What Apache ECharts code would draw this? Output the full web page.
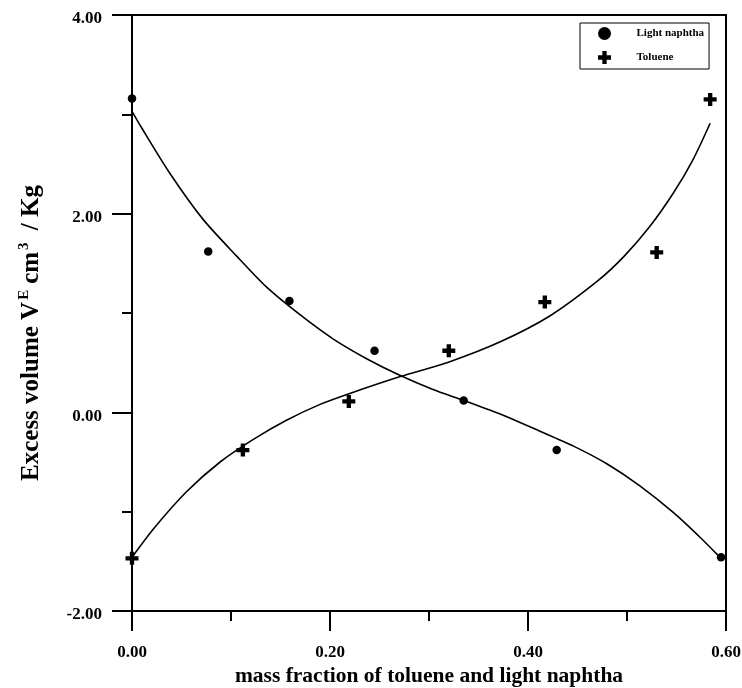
<!DOCTYPE html>
<html>
<head>
<meta charset="utf-8">
<script src="https://cdn.jsdelivr.net/npm/echarts@6/dist/echarts.min.js"></script>
<style>html,body{margin:0;padding:0;background:#fff}#c{width:742px;height:688px}</style>
</head>
<body>
<div id="c"></div>
<script>
// Measured points
const naphthaX = [0, 0.077, 0.159, 0.245, 0.335, 0.429, 0.595];
const naphthaY = [3.16, 1.62, 1.12, 0.62, 0.12, -0.38, -1.46];
const tolueneX = [0, 0.112, 0.219, 0.320, 0.417, 0.530, 0.584];
const tolueneY = [-1.47, -0.38, 0.11, 0.62, 1.11, 1.61, 3.15];
// Fitted curves
const fitNaphthaX = [0, 0.01, 0.038, 0.072, 0.106, 0.136, 0.170, 0.203, 0.237, 0.271, 0.304, 0.335, 0.37, 0.412, 0.446, 0.480, 0.513, 0.547, 0.574, 0.594];
const fitNaphthaY = [3.03, 2.86, 2.41, 1.94, 1.57, 1.26, 0.98, 0.74, 0.54, 0.37, 0.23, 0.12, -0.01, -0.19, -0.34, -0.52, -0.74, -1.01, -1.26, -1.46];
const fitTolueneX = [0, 0.022, 0.055, 0.089, 0.123, 0.156, 0.19, 0.22, 0.271, 0.321, 0.372, 0.422, 0.47, 0.497, 0.523, 0.547, 0.567, 0.584];
const fitTolueneY = [-1.46, -1.17, -0.80, -0.50, -0.27, -0.08, 0.08, 0.19, 0.36, 0.51, 0.71, 0.97, 1.32, 1.57, 1.87, 2.21, 2.55, 2.91];
const xTicks = [0, 0.2, 0.4, 0.6];
const yTicks = [-2, 0, 2, 4];
const seriesNames = ['Light naphtha', 'Toluene'];

const zip = (a, b) => a.map((v, i) => [v, b[i]]);
const FONT = '"Liberation Serif", "Times New Roman", serif';
const CROSS = 'path://M4,0H8V4H12V8H8V12H4V8H0V4H4Z';

const chart = echarts.init(document.getElementById('c'), null, {renderer: 'canvas'});
chart.setOption({
  animation: false,
  backgroundColor: '#fff',
  grid: {left: 132, right: 16, top: 15, bottom: 77, show: true, borderColor: '#000', borderWidth: 2, backgroundColor: 'transparent', containLabel: false, outerBoundsMode: 'none'},
  legend: {
    data: seriesNames,
    orient: 'vertical',
    left: 580, top: 23,
    padding: [4, 5, 5, 18],
    itemWidth: 40, itemHeight: 13, itemGap: 11,
    borderColor: '#000', borderWidth: 1,
    itemStyle: {opacity: 1},
    textStyle: {fontFamily: FONT, fontWeight: 'bold', fontSize: 11, color: '#000', padding: [0, 0, 0, 7]}
  },
  xAxis: {
    type: 'value', min: xTicks[0], max: xTicks[xTicks.length - 1], interval: 0.2,
    name: 'mass fraction of toluene and light naphtha',
    nameLocation: 'middle', nameGap: 54,
    nameTextStyle: {fontFamily: FONT, fontWeight: 'bold', fontSize: 21.5, color: '#000'},
    axisLine: {onZero: false, lineStyle: {color: '#000', width: 2}},
    axisTick: {inside: false, length: 20, lineStyle: {color: '#000', width: 2}},
    minorTick: {show: true, splitNumber: 2, length: 10, lineStyle: {color: '#000', width: 2}},
    splitLine: {show: false},
    axisLabel: {margin: 33, fontFamily: FONT, fontWeight: 'bold', fontSize: 17, color: '#000', formatter: v => v.toFixed(2)}
  },
  yAxis: {
    type: 'value', min: yTicks[0], max: yTicks[yTicks.length - 1], interval: 2,
    name: '{n|Excess volume V}{s|E}{n|cm}{s|3}{n| / Kg}',
    nameLocation: 'middle', nameGap: 86,
    nameTextStyle: {
      padding: [0, 40, 0, 0],
      rich: {
        n: {fontFamily: FONT, fontWeight: 'bold', fontSize: 25, color: '#000', lineHeight: 29},
        s: {fontFamily: FONT, fontWeight: 'bold', fontSize: 15, color: '#000', verticalAlign: 'top', lineHeight: 29, padding: [0, 6, 12, 2]}
      }
    },
    axisLine: {lineStyle: {color: '#000', width: 2}},
    axisTick: {inside: false, length: 20, lineStyle: {color: '#000', width: 2}},
    minorTick: {show: true, splitNumber: 2, length: 10, lineStyle: {color: '#000', width: 2}},
    splitLine: {show: false},
    axisLabel: {
      margin: 30,
      formatter: v => '{a|' + v.toFixed(2) + '}',
      rich: {a: {fontFamily: FONT, fontWeight: 'bold', fontSize: 17, color: '#000', padding: [8, 0, 0, 0]}}
    }
  },
  series: [
    {name: seriesNames[0], type: 'scatter', symbol: 'circle', symbolSize: 8.5, itemStyle: {color: '#000', opacity: 1}, data: zip(naphthaX, naphthaY), z: 5},
    {name: seriesNames[1], type: 'scatter', symbol: CROSS, symbolSize: 13, itemStyle: {color: '#000', opacity: 1}, data: zip(tolueneX, tolueneY), z: 5},
    {name: 'fitN', type: 'line', smooth: 0.25, showSymbol: false, symbol: 'none', lineStyle: {color: '#000', width: 1.6}, data: zip(fitNaphthaX, fitNaphthaY)},
    {name: 'fitT', type: 'line', smooth: 0.25, showSymbol: false, symbol: 'none', lineStyle: {color: '#000', width: 1.6}, data: zip(fitTolueneX, fitTolueneY)}
  ]
});
</script>
</body>
</html>
